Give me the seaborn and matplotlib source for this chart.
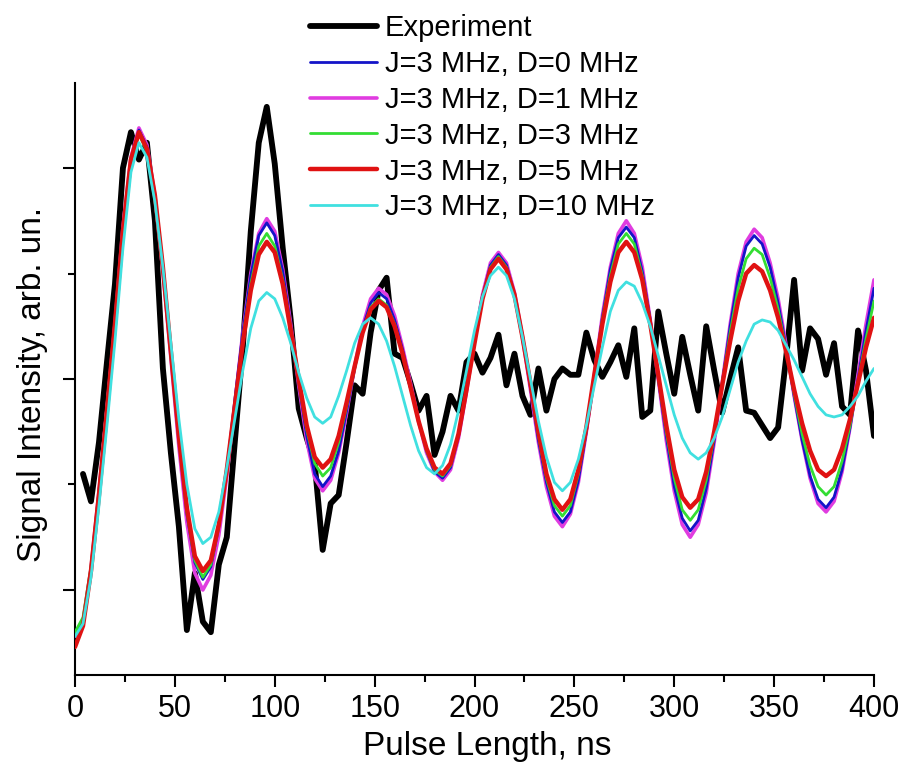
import matplotlib
matplotlib.use("Agg")
import matplotlib.pyplot as plt
from matplotlib.ticker import MultipleLocator, NullFormatter
import pandas as pd
import seaborn as sns

# ---------------- data ----------------
pulse_exp = list(range(4, 401, 4))
experiment = [
    0.55, 0.42, 0.70, 1.08, 1.45, 2.00, 2.17, 2.04, 2.12, 1.75,
    1.05, 0.65, 0.30, -0.19, 0.08, -0.15, -0.20, 0.12, 0.25, 0.70,
    1.15, 1.70, 2.12, 2.29, 2.02, 1.62, 1.28, 0.86, 0.72, 0.60,
    0.19, 0.41, 0.45, 0.70, 0.97, 0.93, 1.22, 1.42, 1.48, 1.12,
    1.10, 0.98, 0.85, 0.92, 0.64, 0.75, 0.92, 0.85, 1.08, 1.12,
    1.03, 1.10, 1.21, 0.97, 1.12, 0.92, 0.83, 1.05, 0.85, 1.00,
    1.05, 1.02, 1.02, 1.22, 1.09, 1.01, 1.08, 1.16, 1.01, 1.24,
    0.82, 0.85, 1.32, 1.12, 0.93, 1.20, 1.02, 0.85, 1.25, 1.04,
    0.84, 1.00, 1.15, 0.85, 0.84, 0.78, 0.72, 0.77, 1.10, 1.47,
    1.04, 1.24, 1.19, 1.02, 1.17, 0.87, 0.83, 1.23, 1.04, 0.73,
]

pulse_sim = list(range(0, 401, 4))
sim_D0 = [
    -0.22, -0.15, 0.10, 0.47, 0.86, 1.26, 1.71, 2.04, 2.18,
    2.10, 1.87, 1.52, 1.12, 0.71, 0.36, 0.13, 0.05,
    0.11, 0.30, 0.57, 0.90, 1.22, 1.49, 1.68, 1.74,
    1.68, 1.51, 1.25, 0.98, 0.73, 0.55, 0.49,
    0.54, 0.66, 0.85, 1.05, 1.24, 1.36, 1.41,
    1.38, 1.28, 1.14, 0.97, 0.80, 0.66, 0.56, 0.53,
    0.58, 0.73, 0.94, 1.18, 1.39, 1.54, 1.59,
    1.54, 1.40, 1.20, 0.96, 0.71, 0.51, 0.37, 0.32,
    0.37, 0.52, 0.75, 1.02, 1.29, 1.52, 1.67, 1.72,
    1.67, 1.51, 1.28, 1.00, 0.73, 0.49, 0.34, 0.28,
    0.33, 0.48, 0.71, 0.98, 1.25, 1.48, 1.63, 1.68,
    1.64, 1.53, 1.36, 1.15, 0.92, 0.71, 0.54, 0.43, 0.39,
    0.44, 0.57, 0.77, 1.00, 1.23, 1.43,
]
sim_D1 = [
    -0.22, -0.15, 0.10, 0.47, 0.86, 1.26, 1.72, 2.05, 2.19,
    2.11, 1.87, 1.51, 1.10, 0.68, 0.32, 0.08, 0.00,
    0.07, 0.26, 0.54, 0.88, 1.22, 1.50, 1.69, 1.76,
    1.70, 1.52, 1.26, 0.97, 0.71, 0.53, 0.47,
    0.52, 0.65, 0.84, 1.06, 1.25, 1.38, 1.43,
    1.40, 1.30, 1.15, 0.98, 0.80, 0.65, 0.56, 0.52,
    0.57, 0.72, 0.94, 1.18, 1.40, 1.55, 1.60,
    1.55, 1.41, 1.20, 0.95, 0.70, 0.49, 0.35, 0.30,
    0.36, 0.51, 0.75, 1.02, 1.30, 1.53, 1.69, 1.75,
    1.69, 1.53, 1.28, 1.00, 0.71, 0.47, 0.31, 0.25,
    0.31, 0.46, 0.70, 0.98, 1.26, 1.50, 1.65, 1.71,
    1.67, 1.55, 1.38, 1.16, 0.92, 0.71, 0.53, 0.41, 0.37,
    0.42, 0.56, 0.77, 1.02, 1.26, 1.47,
]
sim_D3 = [
    -0.20, -0.13, 0.11, 0.47, 0.86, 1.26, 1.70, 2.03, 2.16,
    2.08, 1.85, 1.51, 1.11, 0.71, 0.37, 0.14, 0.06,
    0.12, 0.30, 0.56, 0.88, 1.19, 1.45, 1.63, 1.69,
    1.63, 1.47, 1.24, 0.99, 0.76, 0.60, 0.54,
    0.58, 0.70, 0.87, 1.05, 1.22, 1.34, 1.38,
    1.35, 1.26, 1.12, 0.96, 0.80, 0.66, 0.57, 0.54,
    0.59, 0.74, 0.95, 1.18, 1.38, 1.53, 1.58,
    1.53, 1.40, 1.20, 0.97, 0.73, 0.53, 0.40, 0.35,
    0.40, 0.55, 0.76, 1.02, 1.28, 1.49, 1.64, 1.69,
    1.64, 1.49, 1.27, 1.01, 0.75, 0.53, 0.38, 0.33,
    0.38, 0.52, 0.73, 0.98, 1.22, 1.43, 1.57, 1.62,
    1.59, 1.48, 1.33, 1.14, 0.93, 0.74, 0.59, 0.49, 0.45,
    0.49, 0.61, 0.78, 0.99, 1.19, 1.37,
]
sim_D5 = [
    -0.27, -0.17, 0.09, 0.45, 0.85, 1.26, 1.70, 2.04, 2.17,
    2.09, 1.87, 1.53, 1.13, 0.73, 0.39, 0.16, 0.09,
    0.14, 0.31, 0.57, 0.87, 1.17, 1.42, 1.59, 1.65,
    1.60, 1.45, 1.23, 1.00, 0.78, 0.63, 0.58,
    0.62, 0.73, 0.89, 1.06, 1.22, 1.33, 1.37,
    1.34, 1.25, 1.12, 0.96, 0.80, 0.67, 0.58, 0.55,
    0.60, 0.74, 0.95, 1.17, 1.38, 1.52, 1.57,
    1.52, 1.40, 1.20, 0.98, 0.75, 0.55, 0.43, 0.38,
    0.43, 0.57, 0.77, 1.02, 1.26, 1.46, 1.60, 1.65,
    1.60, 1.47, 1.26, 1.02, 0.78, 0.57, 0.44, 0.39,
    0.43, 0.56, 0.75, 0.97, 1.18, 1.37, 1.50, 1.54,
    1.51, 1.42, 1.29, 1.13, 0.95, 0.79, 0.66, 0.57, 0.54,
    0.57, 0.67, 0.81, 0.98, 1.15, 1.29,
]
sim_D10 = [
    -0.22, -0.16, 0.06, 0.40, 0.78, 1.18, 1.62, 1.98, 2.12,
    2.05, 1.84, 1.53, 1.17, 0.81, 0.50, 0.29, 0.22,
    0.25, 0.37, 0.58, 0.81, 1.04, 1.24, 1.37, 1.41,
    1.38, 1.29, 1.17, 1.03, 0.91, 0.82, 0.79,
    0.82, 0.92, 1.04, 1.17, 1.26, 1.29, 1.26,
    1.18, 1.06, 0.92, 0.78, 0.66, 0.58, 0.55, 0.59,
    0.69, 0.85, 1.04, 1.23, 1.39, 1.49, 1.53,
    1.49, 1.38, 1.20, 1.00, 0.80, 0.63, 0.51, 0.47,
    0.51, 0.62, 0.78, 0.97, 1.15, 1.32, 1.42, 1.46,
    1.44, 1.36, 1.25, 1.11, 0.97, 0.83, 0.72, 0.65, 0.62,
    0.65, 0.72, 0.82, 0.95, 1.08, 1.18, 1.26, 1.28,
    1.27, 1.23, 1.16, 1.09, 1.01, 0.93, 0.87, 0.83, 0.82,
    0.83, 0.87, 0.92, 0.99, 1.05,
]

sim_labels = ["J=3 MHz, D=0 MHz", "J=3 MHz, D=1 MHz", "J=3 MHz, D=3 MHz",
              "J=3 MHz, D=5 MHz", "J=3 MHz, D=10 MHz"]
sim_series = [sim_D0, sim_D1, sim_D3, sim_D5, sim_D10]
sim_colors = ["#1414C8", "#E03CE0", "#33DD33", "#E01212", "#40E0E0"]
sim_widths = [2.0, 2.6, 2.0, 3.2, 2.0]
sim_z = [4, 3, 5, 6, 7]

x_ticks = [0, 50, 100, 150, 200, 250, 300, 350, 400]

# ---------------- figure ----------------
sns.set_style("ticks")
plt.rcParams["font.family"] = ["Liberation Sans", "DejaVu Sans"]
plt.rcParams["text.color"] = "black"
plt.rcParams["axes.labelcolor"] = "black"
plt.rcParams["xtick.color"] = "black"
plt.rcParams["ytick.color"] = "black"

W, H = 902, 767
fig = plt.figure(figsize=(W / 100, H / 100), dpi=100)
ax = fig.add_axes([75 / W, 1 - 675 / H, (874 - 75) / W, (675 - 83) / H])

handles = {}
df_exp = pd.DataFrame({"pulse": pulse_exp, "signal": experiment})
sns.lineplot(data=df_exp, x="pulse", y="signal", ax=ax, color="black",
             lw=4.2, zorder=2, label="Experiment")
handles["Experiment"] = ax.lines[-1]

for lab, ys, c, w, z in zip(sim_labels, sim_series, sim_colors, sim_widths, sim_z):
    df = pd.DataFrame({"pulse": pulse_sim, "signal": ys})
    sns.lineplot(data=df, x="pulse", y="signal", ax=ax, color=c, lw=w,
                 zorder=z, label=lab)
    handles[lab] = ax.lines[-1]

if ax.get_legend() is not None:
    ax.get_legend().remove()

ax.set_xlim(0, 400)
ax.set_ylim(-0.403, 2.403)
ax.set_xticks(x_ticks)
ax.xaxis.set_minor_locator(MultipleLocator(25))
ax.set_yticks([0, 1, 2])
ax.yaxis.set_minor_locator(MultipleLocator(0.5))
ax.yaxis.set_major_formatter(NullFormatter())

for s in ["top", "right"]:
    ax.spines[s].set_visible(False)
for s in ["left", "bottom"]:
    ax.spines[s].set_linewidth(1.5)
    ax.spines[s].set_color("black")

ax.tick_params(which="major", direction="out", length=8.5, width=1.5,
               labelsize=22, pad=5, color="black", labelcolor="black")
ax.tick_params(which="minor", direction="out", length=4.8, width=1.5,
               color="black")

ax.set_xlabel("Pulse Length, ns", fontsize=24, color="black")
ax.set_ylabel("Signal Intensity, arb. un.", fontsize=24, color="black")
ax.xaxis.set_label_coords(0.516, -0.094)
ax.yaxis.set_label_coords(-0.034, 0.49)

order = ["Experiment"] + sim_labels
fig.legend([handles[k] for k in order], order, loc="upper left",
           bbox_to_anchor=(310 / W, 1 - 14 / H), frameon=False, fontsize=21,
           handlelength=2.3, handletextpad=0.27, labelspacing=0.27,
           borderpad=0, borderaxespad=0, labelcolor="black")

fig.savefig("out.png", dpi=100, facecolor="white")
